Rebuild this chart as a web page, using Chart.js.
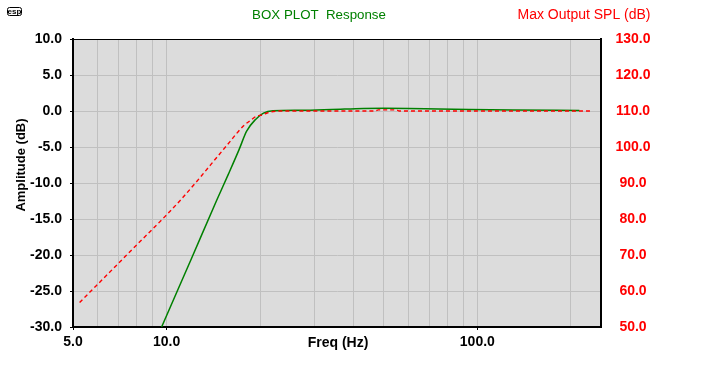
<!DOCTYPE html>
<html lang="en">
<head>
    <meta charset="UTF-8">
    <title>BOX PLOT Response</title>
    <script src="https://cdn.jsdelivr.net/npm/chart.js@4"></script>
    <style>
        body { margin: 0; background: #fff; }
    </style>
</head>
<body>
    <canvas id="chart" width="720" height="370"></canvas>
    <script>
        // values
        const respFreq = [9.0, 9.64, 12.0, 14.5, 15.8, 17.1, 18.1, 19.3, 20.5, 22.0, 27, 34, 43, 50, 60, 75, 94, 130, 213];
        const respDb   = [-33.0, -30.0, -20.6, -12.4, -8.8, -5.4, -2.8, -1.2, -0.3, 0.03, 0.1, 0.21, 0.35, 0.38, 0.35, 0.27, 0.21, 0.14, 0.07];

        const splFreq = [5.25, 7.44, 11.1, 15.2, 16.0, 16.9, 17.8, 18.7, 19.5, 20.3, 21.3, 23, 30, 47, 48, 55, 56, 100, 235];
        const splDb   = [56.8, 70.0, 85.3, 99.2, 101.5, 104.0, 106.1, 107.5, 108.6, 108.9, 109.6, 110, 110, 110, 110.3, 110.3, 110, 110, 110];

        const xGridValues = [5, 6, 7, 8, 9, 10, 20, 30, 40, 50, 60, 70, 80, 90, 100, 200];
        const xTickLabels = [5, 10, 100];

        const toPoints = (xs, ys) => xs.map((x, i) => ({ x: x, y: ys[i] }));

        const tickFont = { family: 'Liberation Sans', size: 14, weight: 'bold' };

        const extras = {
            id: 'extras',
            beforeDraw(chart) {
                const c = chart.ctx;
                const a = chart.chartArea;
                c.save();
                c.fillStyle = '#fff';
                c.fillRect(0, 0, chart.width, chart.height);
                c.fillStyle = '#dcdcdc';
                c.fillRect(a.left, a.top, a.right - a.left, a.bottom - a.top);
                c.restore();
            },
            afterDraw(chart) {
                const c = chart.ctx;
                const a = chart.chartArea;
                c.save();
                // thin top border
                c.strokeStyle = '#000';
                c.lineWidth = 1;
                c.beginPath();
                c.moveTo(a.left, a.top + 0.5);
                c.lineTo(a.right, a.top + 0.5);
                c.stroke();

                c.textAlign = 'center';
                c.textBaseline = 'middle';
                c.font = '13.3px "Liberation Sans"';
                c.fillStyle = '#008000';
                c.fillText('BOX PLOT  Response', 319, 15);
                c.font = '14px "Liberation Sans"';
                c.fillStyle = '#ff0000';
                c.fillText('Max Output SPL (dB)', 584, 15);

                c.fillStyle = '#000';
                c.font = 'bold 14px "Liberation Sans"';
                c.fillText('Freq (Hz)', 338, 343);

                c.save();
                c.translate(21, 165);
                c.rotate(-Math.PI / 2);
                c.font = 'bold 13px "Liberation Sans"';
                c.fillText('Amplitude (dB)', 0, 0);
                c.restore();

                // small esp logo
                c.lineWidth = 1;
                c.beginPath();
                c.roundRect(7.5, 7.5, 14, 8, 2);
                c.stroke();
                c.font = 'bold 8px "Liberation Sans"';
                c.fillText('esp', 14.5, 11.5);
                c.restore();
            }
        };

        new Chart(document.getElementById('chart'), {
            type: 'line',
            data: {
                datasets: [{
                    label: 'Max Output SPL',
                    data: toPoints(splFreq, splDb),
                    yAxisID: 'ySpl',
                    borderColor: '#ff0000',
                    borderWidth: 1.4,
                    borderDash: [4, 3],
                    pointRadius: 0,
                    cubicInterpolationMode: 'monotone'
                }, {
                    label: 'Response',
                    data: toPoints(respFreq, respDb),
                    yAxisID: 'yAmp',
                    borderColor: '#008000',
                    borderWidth: 1.5,
                    pointRadius: 0,
                    cubicInterpolationMode: 'monotone'
                }]
            },
            options: {
                responsive: false,
                animation: false,
                layout: { padding: { top: 39, left: 0, right: 0, bottom: 0 } },
                plugins: {
                    legend: { display: false },
                    tooltip: { enabled: false }
                },
                scales: {
                    x: {
                        type: 'logarithmic',
                        min: 5,
                        max: 250,
                        afterBuildTicks: (axis) => {
                            axis.ticks = xGridValues.map(v => ({ value: v }));
                        },
                        afterFit: (axis) => { axis.height = 43; },
                        grid: {
                            color: '#c0c0c0',
                            tickLength: 3,
                            tickColor: (ctx) => xTickLabels.includes(ctx.tick && ctx.tick.value) ? '#000' : 'rgba(0,0,0,0)'
                        },
                        border: { color: '#000', width: 2 },
                        ticks: {
                            autoSkip: false,
                            maxRotation: 0,
                            padding: 4,
                            color: '#000',
                            font: tickFont,
                            callback: (v) => xTickLabels.includes(v) ? v.toFixed(1) : ''
                        }
                    },
                    yAmp: {
                        position: 'left',
                        min: -30,
                        max: 10,
                        afterFit: (axis) => { axis.width = 73; },
                        grid: { color: '#c0c0c0', tickLength: 3, tickColor: '#000' },
                        border: { color: '#000', width: 2 },
                        ticks: {
                            stepSize: 5,
                            padding: 8,
                            color: '#000',
                            font: tickFont,
                            callback: (v) => v.toFixed(1)
                        }
                    },
                    ySpl: {
                        position: 'right',
                        min: 50,
                        max: 130,
                        afterFit: (axis) => { axis.width = 119; },
                        grid: { display: false, drawTicks: false },
                        border: { color: '#000', width: 2 },
                        ticks: {
                            stepSize: 10,
                            padding: 14.5,
                            crossAlign: 'center',
                            color: '#ff0000',
                            font: tickFont,
                            callback: (v) => v.toFixed(1)
                        }
                    }
                }
            },
            plugins: [extras]
        });
    </script>
</body>
</html>
